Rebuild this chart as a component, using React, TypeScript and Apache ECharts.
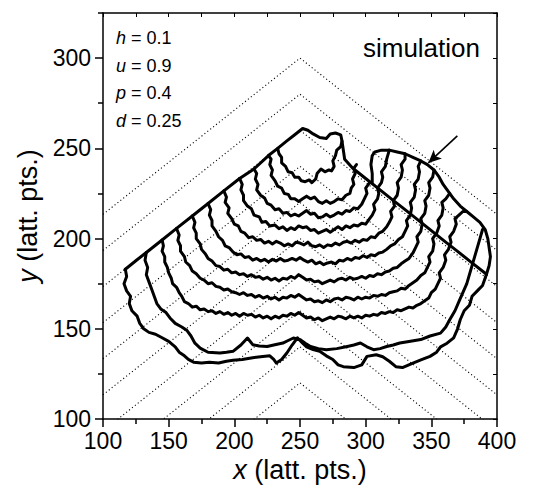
import React, { useEffect, useRef } from 'react';
import * as echarts from 'echarts';

const xTickValues = [100, 150, 200, 250, 300, 350, 400];
const yTickValues = [100, 150, 200, 250, 300];
const yMinorValues = [125, 175, 225, 275, 325];

// dotted 30° guide chevrons: apex at x=250, ends at x=100 / x=400
const chevronApex = [120, 140, 160, 180, 200, 220, 240, 260, 280, 300];
const chevronEnd = [33.4, 53.4, 73.4, 93.4, 113.4, 133.4, 153.4, 173.4, 193.4, 213.4];

const outline = [
  [117, 183], [125, 187.7], [133, 192.3], [145, 199.2], [156, 205.6], [168, 212.5], [180, 219.4],
  [192, 226.4], [204, 233.3], [215, 238.6], [226, 246], [233, 250], [240, 254.1], [246, 257.5],
  [252, 261], [256, 260], [260, 258], [265, 256], [270, 255.5], [273, 258], [277, 258.5], [281, 257.5],
  [282, 254], [284, 244], [290, 239.1], [300, 233.3], [310, 227.5], [320, 221.7], [330, 216],
  [340, 210.2], [350, 204.4], [360, 198.6], [370, 192.9], [380, 187.1], [392, 180.2],
];
const lobe = [
  [305, 231], [305, 236], [304, 241], [305, 246], [307, 248], [312, 249], [318, 249], [324, 248],
  [330, 247], [336, 245], [342, 243], [347, 241], [352, 238], [356, 234], [359, 230], [363, 226],
  [367, 222], [372, 218], [377, 215], [382, 212], [387, 209], [391, 205], [393, 200], [394, 195],
  [395, 190], [394, 185], [392, 180.2],
];
const front0 = [
  [233, 250], [234, 247], [236, 245], [236, 242], [239, 240], [241, 237], [244, 236.5], [246, 234],
  [249, 234], [251, 232], [254, 231.5], [257, 232.5], [259, 231], [262, 233], [263, 236], [266, 238.5],
  [269, 237], [272, 238], [274, 237.5], [276, 240], [275, 243], [277, 246], [278, 249], [281, 251],
  [282, 254],
];
const front1 = [
  [226, 246], [228, 244], [227, 241], [229, 238], [228, 235], [231, 232], [233, 229], [236, 228],
  [238, 225], [241, 224.5], [243, 222], [246, 222], [249, 220.5], [252, 222], [255, 223.5], [258, 222],
  [261, 223], [264, 220.5], [267, 219.5], [270, 221], [273, 219.5], [276, 220.5], [279, 222], [282, 221.5],
  [285, 224], [288, 225], [289, 228], [291, 230], [290, 233], [292, 236], [291, 239], [293, 241],
];
const front2 = [
  [215, 238.6], [217, 236], [216, 233], [218, 230], [217, 227], [220, 224], [223, 222.5], [225, 219.5],
  [228, 218.5], [231, 216], [234, 216.5], [237, 214], [240, 214.5], [243, 212.5], [246, 213.5], [249, 212.5],
  [252, 214], [255, 215.5], [258, 213.5], [261, 214], [264, 211.5], [267, 212], [270, 213.5], [273, 212],
  [276, 213], [279, 214.5], [282, 213.5], [285, 215.5], [288, 215], [291, 217], [294, 216.5], [297, 219],
  [299, 222], [301, 225], [300, 228], [303, 231],
];
const front3 = [
  [204, 233.3], [206, 230], [205, 227], [207, 224], [207, 221], [210, 218], [213, 216.5], [215, 213],
  [219, 212], [221, 209], [224, 209.5], [227, 207], [231, 207.5], [234, 205.5], [237, 206.5], [240, 204.5],
  [243, 206], [246, 205], [249, 207], [252, 206], [255, 206.5], [258, 204.5], [261, 205], [264, 203],
  [267, 204], [270, 205], [273, 203.5], [276, 205], [279, 206.5], [282, 205], [285, 207], [288, 206],
  [291, 207.5], [294, 207], [297, 208.5], [300, 208], [303, 211], [305, 213], [307, 216], [306, 219],
  [309, 222], [310, 225], [309, 228], [312, 231], [313, 234], [312, 237], [315, 240], [316, 244],
  [318, 249],
];
const front4 = [
  [192, 226.4], [194, 223], [193, 220], [196, 217], [195, 214], [198, 211], [200, 208], [203, 207],
  [205, 204], [208, 203], [211, 200.5], [214, 201], [217, 199], [220, 199.5], [223, 197.5], [226, 198.5],
  [229, 197], [232, 198.5], [235, 197.5], [238, 196], [241, 197], [244, 196], [247, 198], [250, 197.5],
  [253, 196.5], [256, 198], [259, 196], [262, 195.5], [265, 196.5], [268, 195], [271, 196.5], [274, 196],
  [277, 197.5], [280, 196.5], [283, 198], [286, 198.5], [289, 197.5], [292, 199], [295, 198], [298, 199.5],
  [301, 199], [304, 201], [307, 200.5], [310, 203], [313, 204], [316, 206.5], [318, 209], [320, 212],
  [319, 215], [322, 218], [321, 221], [324, 224], [325, 228], [324, 231], [327, 234], [328, 238],
  [327, 241], [330, 244], [330, 247],
];
const front5 = [
  [180, 219.4], [182, 216], [181, 213], [183, 210], [183, 207], [186, 204], [188, 201], [191, 199],
  [193, 196], [196, 195], [199, 192.5], [202, 191], [205, 191.5], [208, 189.5], [211, 190], [214, 188],
  [217, 189], [220, 187.5], [223, 188.5], [226, 187], [229, 188.5], [232, 187.5], [235, 189], [238, 187.5],
  [241, 188], [244, 189], [247, 188], [250, 189.5], [253, 188], [256, 187], [259, 188], [262, 186],
  [265, 187], [268, 185.5], [271, 186.5], [274, 187], [277, 186], [280, 188], [283, 187.5], [286, 189],
  [289, 188], [292, 189.5], [295, 189], [298, 190.5], [301, 189.5], [304, 191], [307, 190.5], [310, 192],
  [313, 192.5], [316, 194], [319, 196], [322, 197], [325, 199.5], [328, 201], [330, 204], [332, 207],
  [331, 210], [334, 213], [335, 217], [334, 220], [337, 223], [338, 227], [337, 230], [340, 233],
  [341, 237], [340, 240], [342, 243],
];
const front6 = [
  [168, 212.5], [170, 209], [169, 206], [171, 203], [171, 200], [174, 197], [175, 194], [178, 191.5],
  [180, 189], [183, 187.5], [186, 185], [189, 184.5], [192, 182.5], [195, 183], [198, 181], [201, 181.5],
  [204, 180], [207, 180.5], [210, 179], [213, 180], [216, 178.5], [219, 179], [222, 177.5], [225, 178.5],
  [228, 177], [231, 178], [234, 176.5], [237, 178], [240, 177.5], [243, 179], [246, 178], [249, 180],
  [252, 178.5], [255, 177], [258, 177.5], [261, 176], [264, 176.5], [267, 175], [270, 176], [273, 177],
  [276, 176], [279, 177.5], [282, 178], [285, 177], [288, 178.5], [291, 177.5], [294, 178], [297, 179],
  [300, 178], [303, 179.5], [306, 179], [309, 180.5], [312, 180], [315, 181.5], [318, 182], [321, 183.5],
  [324, 184], [327, 186], [330, 187.5], [333, 189], [336, 192], [338, 195], [340, 198], [339, 201],
  [342, 204], [343, 208], [342, 211], [345, 214], [346, 218], [345, 221], [348, 224], [349, 228],
  [348, 231], [351, 234], [352, 238],
];
const front7 = [
  [156, 205.6], [158, 202], [157, 199], [159, 196], [159, 193], [162, 190], [163, 187], [166, 185],
  [168, 182], [171, 180.5], [174, 178], [177, 177], [180, 175], [183, 175.5], [186, 173.5], [189, 173],
  [192, 171.5], [195, 172], [198, 170.5], [201, 170], [204, 169], [207, 170], [210, 168.5], [213, 169],
  [216, 167.5], [219, 168.5], [222, 167], [225, 168], [228, 166.5], [231, 167.5], [234, 166], [237, 167.5],
  [240, 167], [243, 168.5], [246, 167.5], [249, 169], [252, 167.5], [255, 166], [258, 166.5], [261, 165],
  [264, 165.5], [267, 164.5], [270, 166], [273, 165], [276, 166.5], [279, 167], [282, 166], [285, 167.5],
  [288, 167], [291, 166], [294, 167.5], [297, 166.5], [300, 167.5], [303, 167], [306, 168.5], [309, 168],
  [312, 169], [315, 168.5], [318, 170], [321, 170.5], [324, 171], [327, 172.5], [330, 172], [333, 174],
  [336, 175.5], [339, 177], [342, 179.5], [345, 181], [347, 184], [349, 187], [348, 190], [351, 193],
  [352, 197], [351, 200], [354, 203], [356, 207], [355, 210], [358, 213], [359, 217], [358, 220],
  [361, 222], [364, 225],
];
const front8 = [
  [145, 199.2], [146, 196], [145, 193], [147, 190], [147, 187], [149, 184], [150, 181], [152, 178],
  [153, 175], [156, 173], [158, 170], [160, 168], [162, 165], [165, 164], [168, 162], [171, 162.5],
  [174, 160.5], [177, 161], [180, 159.5], [183, 160], [186, 158.5], [189, 159.5], [192, 158], [195, 159],
  [198, 157.5], [201, 158.5], [204, 157], [207, 158.5], [210, 157.5], [213, 158], [216, 156.5], [219, 157.5],
  [222, 156], [225, 157], [228, 155.5], [231, 157], [234, 156], [237, 157.5], [240, 157], [243, 158.5],
  [246, 157.5], [249, 159], [252, 157.5], [255, 156], [258, 156.5], [261, 155], [264, 156], [267, 154.5],
  [270, 155.5], [273, 156.5], [276, 155.5], [279, 157], [282, 156.5], [285, 155.5], [288, 157], [291, 156],
  [294, 157], [297, 156], [300, 157.5], [303, 157], [306, 158], [309, 157.5], [312, 159], [315, 158.5],
  [318, 159.5], [321, 159], [324, 160.5], [327, 160], [330, 161], [333, 162], [336, 161.5], [339, 163],
  [342, 164], [345, 165.5], [348, 167], [350, 170], [353, 172], [355, 175], [357, 178], [356, 181],
  [359, 184], [361, 188], [360, 191], [363, 194], [365, 198], [364, 201], [367, 204], [369, 208],
  [368, 211], [371, 213], [374, 215], [377, 215],
];
const front9 = [
  [133, 192.3], [132, 188], [134, 184], [133, 180], [135, 176], [137, 172], [139, 168], [141, 164],
  [144, 161], [148, 159], [151, 156], [155, 153], [160, 151], [164, 149], [167, 146], [170, 142],
  [174, 139.3], [180, 137], [189, 136.6], [194, 137], [199, 137.5], [205, 141], [210, 144.9], [214, 141.2],
  [219, 140.5], [225, 140.2], [230, 141], [237, 142.1], [241, 143.5], [245, 144.9], [250, 144], [254, 142],
  [258, 140.2], [264, 139], [270, 138.4], [278, 139], [286, 140.2], [291, 141], [296, 142.1], [301, 140],
  [306, 138.4], [311, 139], [316, 140.2], [321, 141], [326, 142.1], [333, 143], [342, 144], [349, 146],
  [357, 147.6], [361, 151], [364, 155], [368, 160], [371, 165], [374, 170], [377, 175], [379, 180],
  [381, 185], [383, 190], [385, 195], [387, 200], [389, 205],
];
const front10 = [
  [117, 183], [118, 179], [116, 175], [118, 171], [121, 168], [120, 164], [122, 160], [126, 157],
  [128, 153], [131, 150], [135, 148], [140, 147], [145, 145], [150, 143], [155, 140], [158, 137],
  [162, 135], [165, 133], [169, 131.5], [175, 131], [181, 131.5], [188, 131], [194, 132], [199, 132.5],
  [206, 133], [214, 134], [220, 134.5], [227, 135], [230, 133], [232, 131], [236, 133], [240, 136.6],
  [244, 141], [248, 145], [252, 142], [255, 140], [260, 138.5], [265, 137.5], [270, 135], [275, 133],
  [279, 130], [283, 129], [291, 128.5], [297, 130], [301, 134.7], [308, 135.6], [313, 134.5], [318, 132],
  [323, 129], [328, 128.5], [336, 131], [343, 133], [349, 134.7], [354, 137], [357, 140], [362, 142],
  [367, 145], [370, 150], [372, 155], [375, 160], [379, 163], [381, 168], [385, 171], [389, 174],
  [392, 180.2],
];
const fronts = [front0, front1, front2, front3, front4, front5, front6, front7, front8, front9, front10];

const arrowFrom = [369.8, 256.9];
const arrowTo = [347.7, 241.9];

const paramNames = ['h', 'u', 'p', 'd'];
const paramValues = ['0.1', '0.9', '0.4', '0.25'];

const FONT = 'Liberation Sans';

export default function App() {
  const ref = useRef<HTMLDivElement>(null);
  useEffect(() => {
    if (!ref.current) return;
    const chart = echarts.init(ref.current, null, { renderer: 'svg' });
    const grid = { left: 103, right: 49, top: 13, bottom: 76 };

    const chevronSeries = chevronApex.map((a, i) => ({
      type: 'line',
      xAxisIndex: 0,
      yAxisIndex: 0,
      data: [[100, chevronEnd[i]], [250, a], [400, chevronEnd[i]]],
      symbol: 'none',
      silent: true,
      clip: true,
      z: 1,
      lineStyle: { color: '#000', width: 1.1, type: [1.1, 2.6] },
    }));

    const solid = (d: number[][], z = 3) => ({
      type: 'line',
      xAxisIndex: 0,
      yAxisIndex: 0,
      data: d,
      symbol: 'none',
      silent: true,
      clip: true,
      z,
      lineStyle: { color: '#000', width: 3, join: 'round', cap: 'round' },
    });

    const series: any[] = [
      ...chevronSeries,
      {
        ...solid(outline),
        markLine: {
          silent: true,
          symbolSize: [9, 13],
          lineStyle: { color: '#000', width: 1.6, type: 'solid' },
          label: { show: false },
          data: [[
            { coord: arrowFrom, symbol: 'none' },
            { coord: arrowTo, symbol: 'arrow' },
          ]],
        },
      },
      solid(lobe),
      ...fronts.map((f) => solid(f)),
    ];

    const txt = { fontFamily: FONT, color: '#000' };
    const tickStyle = { color: '#000', width: 1.5 };

    chart.setOption({
      animation: false,
      grid,
      xAxis: [
        {
          type: 'value', min: 100, max: 400, interval: 50, position: 'bottom',
          name: '{i|x} (latt. pts.)', nameLocation: 'middle', nameGap: 34,
          nameTextStyle: { ...txt, fontSize: 27, rich: { i: { ...txt, fontSize: 27, fontStyle: 'italic' } } },
          axisLine: { show: true, lineStyle: tickStyle },
          axisTick: { show: true, inside: false, length: 8, lineStyle: tickStyle },
          minorTick: { show: true, splitNumber: 2, length: 5, lineStyle: tickStyle },
          axisLabel: { ...txt, fontSize: 23, margin: 10, customValues: xTickValues },
          splitLine: { show: false },
        },
        {
          type: 'value', min: 100, max: 400, interval: 25, position: 'top',
          axisLine: { show: true, lineStyle: tickStyle },
          axisTick: { show: true, inside: true, length: 4, lineStyle: { color: '#000', width: 1 } },
          axisLabel: { show: false },
          splitLine: { show: false },
        },
      ],
      yAxis: [
        {
          type: 'value', min: 100, max: 325, position: 'left',
          name: '{i|y} (latt. pts.)', nameLocation: 'middle', nameGap: 55, nameRotate: 90,
          nameTextStyle: { ...txt, fontSize: 27, rich: { i: { ...txt, fontSize: 27, fontStyle: 'italic' } } },
          axisLine: { show: true, lineStyle: tickStyle },
          axisTick: { show: true, inside: false, length: 8, customValues: yTickValues, lineStyle: tickStyle },
          axisLabel: { ...txt, fontSize: 23, margin: 12, customValues: yTickValues },
          splitLine: { show: false },
        },
        {
          type: 'value', min: 100, max: 325, position: 'left',
          axisLine: { show: false },
          axisTick: { show: true, inside: false, length: 5, customValues: yMinorValues, lineStyle: tickStyle },
          axisLabel: { show: false },
          splitLine: { show: false },
        },
        {
          type: 'value', min: 100, max: 325, interval: 25, position: 'right',
          axisLine: { show: true, lineStyle: tickStyle },
          axisTick: { show: true, inside: true, length: 4, lineStyle: { color: '#000', width: 1 } },
          axisLabel: { show: false },
          splitLine: { show: false },
        },
      ],
      graphic: [
        ...paramNames.map((n, i) => ({
          type: 'text',
          left: 116,
          top: 29 + i * 27.5,
          silent: true,
          style: {
            text: `{i|${n}} = ${paramValues[i]}`,
            fontFamily: FONT,
            fontSize: 18,
            fill: '#000',
            rich: { i: { fontFamily: FONT, fontSize: 18, fontStyle: 'italic', fill: '#000' } },
          },
        })),
        {
          type: 'text',
          right: 66,
          top: 35,
          silent: true,
          style: { text: 'simulation', fontFamily: FONT, fontSize: 26, fill: '#000' },
        },
      ],
      series,
    });
    return () => chart.dispose();
  }, []);
  return (
    <div
      ref={ref}
      style={{ position: 'absolute', left: 0, top: 0, width: 546, height: 495, background: '#fff' }}
    />
  );
}
